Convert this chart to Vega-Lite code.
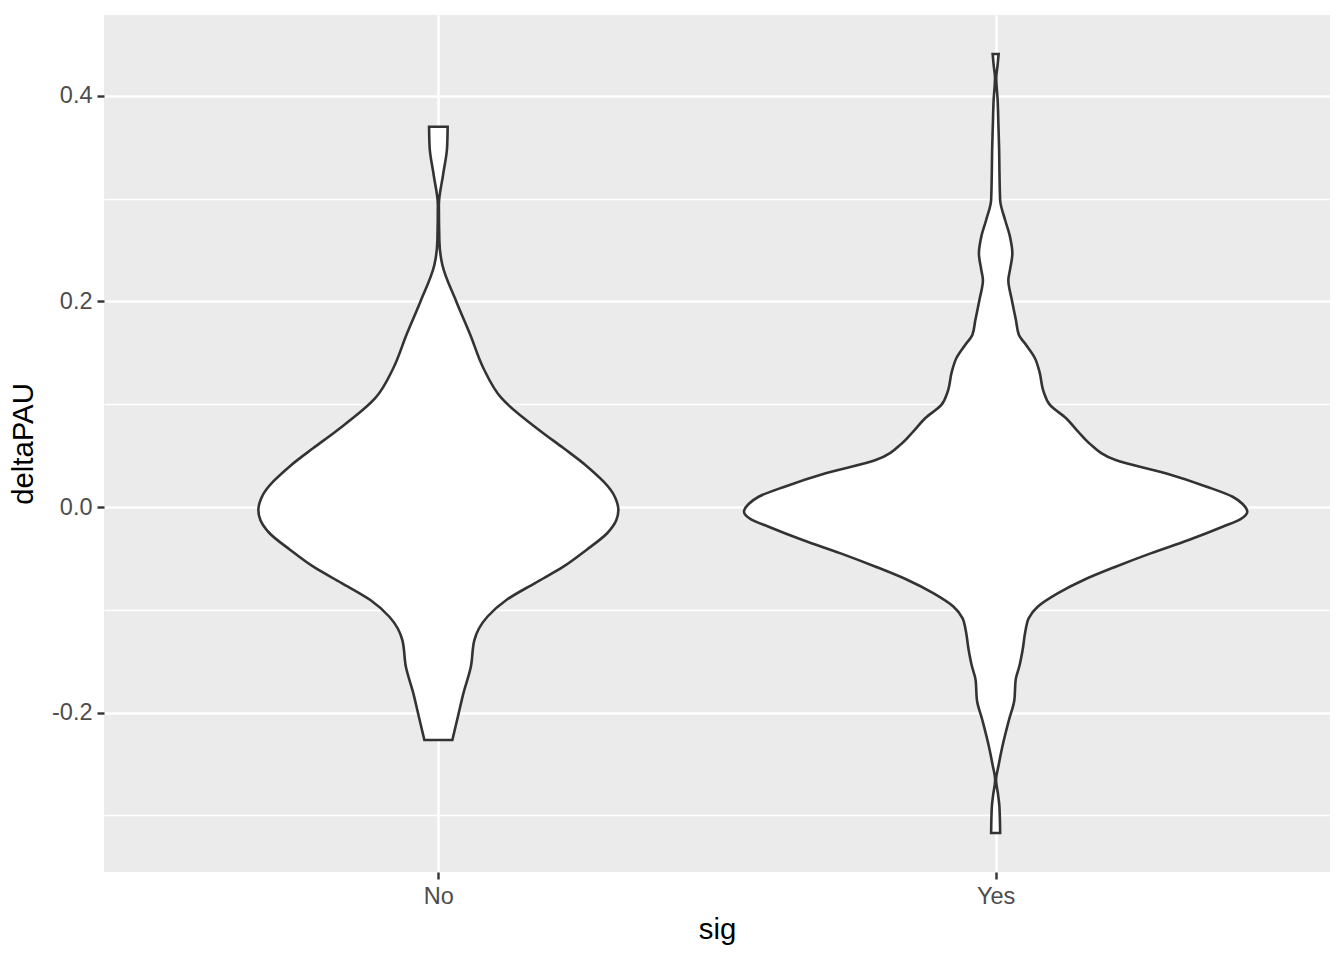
{
  "$schema": "https://vega.github.io/schema/vega-lite/v6.json",
  "width": 1226,
  "height": 857,
  "autosize": {"type": "none"},
  "padding": {"left": 104, "top": 15, "right": 14, "bottom": 88},
  "background": "white",
  "config": {"view": {"fill": "#EBEBEB", "stroke": null}, "font": "Liberation Sans"},
  "data": {"values": [
    {"sig": "No", "deltaPAU": 0.370, "xmin": 0.9833, "xmax": 1.0167},
    {"sig": "No", "deltaPAU": 0.3494, "xmin": 0.9844, "xmax": 1.0156},
    {"sig": "No", "deltaPAU": 0.3231, "xmin": 0.9916, "xmax": 1.0084},
    {"sig": "No", "deltaPAU": 0.2939, "xmin": 0.9991, "xmax": 1.0009},
    {"sig": "No", "deltaPAU": 0.2589, "xmin": 0.9982, "xmax": 1.0018},
    {"sig": "No", "deltaPAU": 0.2355, "xmin": 0.9928, "xmax": 1.0072},
    {"sig": "No", "deltaPAU": 0.1998, "xmin": 0.9677, "xmax": 1.0323},
    {"sig": "No", "deltaPAU": 0.1674, "xmin": 0.9426, "xmax": 1.0574},
    {"sig": "No", "deltaPAU": 0.1353, "xmin": 0.9193, "xmax": 1.0807},
    {"sig": "No", "deltaPAU": 0.1061, "xmin": 0.887, "xmax": 1.113},
    {"sig": "No", "deltaPAU": 0.0733, "xmin": 0.8152, "xmax": 1.1848},
    {"sig": "No", "deltaPAU": 0.0574, "xmin": 0.7757, "xmax": 1.2243},
    {"sig": "No", "deltaPAU": 0.0409, "xmin": 0.7362, "xmax": 1.2638},
    {"sig": "No", "deltaPAU": 0.0088, "xmin": 0.6824, "xmax": 1.3176},
    {"sig": "No", "deltaPAU": -0.0029, "xmin": 0.677, "xmax": 1.323},
    {"sig": "No", "deltaPAU": -0.0127, "xmin": 0.6806, "xmax": 1.3194},
    {"sig": "No", "deltaPAU": -0.0253, "xmin": 0.6967, "xmax": 1.3033},
    {"sig": "No", "deltaPAU": -0.0418, "xmin": 0.7344, "xmax": 1.2656},
    {"sig": "No", "deltaPAU": -0.0581, "xmin": 0.7757, "xmax": 1.2243},
    {"sig": "No", "deltaPAU": -0.074, "xmin": 0.8265, "xmax": 1.1735},
    {"sig": "No", "deltaPAU": -0.0905, "xmin": 0.878, "xmax": 1.122},
    {"sig": "No", "deltaPAU": -0.1068, "xmin": 0.9121, "xmax": 1.0879},
    {"sig": "No", "deltaPAU": -0.1295, "xmin": 0.9354, "xmax": 1.0646},
    {"sig": "No", "deltaPAU": -0.1554, "xmin": 0.9417, "xmax": 1.0583},
    {"sig": "No", "deltaPAU": -0.1813, "xmin": 0.9551, "xmax": 1.0449},
    {"sig": "No", "deltaPAU": -0.2041, "xmin": 0.965, "xmax": 1.035},
    {"sig": "No", "deltaPAU": -0.2268, "xmin": 0.9749, "xmax": 1.0251},
    {"sig": "Yes", "deltaPAU": 0.4409, "xmin": 1.9946, "xmax": 2.0054},
    {"sig": "Yes", "deltaPAU": 0.4302, "xmin": 1.9964, "xmax": 2.0036},
    {"sig": "Yes", "deltaPAU": 0.4175, "xmin": 1.9989, "xmax": 2.0011},
    {"sig": "Yes", "deltaPAU": 0.3961, "xmin": 1.9964, "xmax": 2.0036},
    {"sig": "Yes", "deltaPAU": 0.3718, "xmin": 1.995, "xmax": 2.005},
    {"sig": "Yes", "deltaPAU": 0.3474, "xmin": 1.9937, "xmax": 2.0063},
    {"sig": "Yes", "deltaPAU": 0.3280, "xmin": 1.9932, "xmax": 2.0068},
    {"sig": "Yes", "deltaPAU": 0.2988, "xmin": 1.9919, "xmax": 2.0081},
    {"sig": "Yes", "deltaPAU": 0.2793, "xmin": 1.983, "xmax": 2.017},
    {"sig": "Yes", "deltaPAU": 0.2631, "xmin": 1.9743, "xmax": 2.0257},
    {"sig": "Yes", "deltaPAU": 0.2469, "xmin": 1.97, "xmax": 2.03},
    {"sig": "Yes", "deltaPAU": 0.2307, "xmin": 1.9743, "xmax": 2.0257},
    {"sig": "Yes", "deltaPAU": 0.2209, "xmin": 1.9772, "xmax": 2.0228},
    {"sig": "Yes", "deltaPAU": 0.2015, "xmin": 1.9709, "xmax": 2.0291},
    {"sig": "Yes", "deltaPAU": 0.1820, "xmin": 1.9636, "xmax": 2.0364},
    {"sig": "Yes", "deltaPAU": 0.1674, "xmin": 1.9582, "xmax": 2.0418},
    {"sig": "Yes", "deltaPAU": 0.1577, "xmin": 1.9453, "xmax": 2.0547},
    {"sig": "Yes", "deltaPAU": 0.1450, "xmin": 1.9297, "xmax": 2.0703},
    {"sig": "Yes", "deltaPAU": 0.1317, "xmin": 1.9214, "xmax": 2.0786},
    {"sig": "Yes", "deltaPAU": 0.1122, "xmin": 1.9139, "xmax": 2.0861},
    {"sig": "Yes", "deltaPAU": 0.0993, "xmin": 1.9026, "xmax": 2.0974},
    {"sig": "Yes", "deltaPAU": 0.0866, "xmin": 1.874, "xmax": 2.126},
    {"sig": "Yes", "deltaPAU": 0.0733, "xmin": 1.852, "xmax": 2.148},
    {"sig": "Yes", "deltaPAU": 0.0623, "xmin": 1.8326, "xmax": 2.1674},
    {"sig": "Yes", "deltaPAU": 0.0457, "xmin": 1.7847, "xmax": 2.2153},
    {"sig": "Yes", "deltaPAU": 0.0328, "xmin": 1.695, "xmax": 2.305},
    {"sig": "Yes", "deltaPAU": 0.0198, "xmin": 1.6214, "xmax": 2.3786},
    {"sig": "Yes", "deltaPAU": 0.0100, "xmin": 1.5747, "xmax": 2.4253},
    {"sig": "Yes", "deltaPAU": 0.0029, "xmin": 1.5568, "xmax": 2.4432},
    {"sig": "Yes", "deltaPAU": -0.0046, "xmin": 1.5484, "xmax": 2.4516},
    {"sig": "Yes", "deltaPAU": -0.0117, "xmin": 1.5604, "xmax": 2.4396},
    {"sig": "Yes", "deltaPAU": -0.0192, "xmin": 1.5927, "xmax": 2.4073},
    {"sig": "Yes", "deltaPAU": -0.0321, "xmin": 1.6537, "xmax": 2.3463},
    {"sig": "Yes", "deltaPAU": -0.0451, "xmin": 1.7219, "xmax": 2.2781},
    {"sig": "Yes", "deltaPAU": -0.0581, "xmin": 1.7847, "xmax": 2.2153},
    {"sig": "Yes", "deltaPAU": -0.0710, "xmin": 1.8421, "xmax": 2.1579},
    {"sig": "Yes", "deltaPAU": -0.0840, "xmin": 1.8888, "xmax": 2.1112},
    {"sig": "Yes", "deltaPAU": -0.0970, "xmin": 1.9246, "xmax": 2.0754},
    {"sig": "Yes", "deltaPAU": -0.1083, "xmin": 1.9408, "xmax": 2.0592},
    {"sig": "Yes", "deltaPAU": -0.1197, "xmin": 1.9462, "xmax": 2.0538},
    {"sig": "Yes", "deltaPAU": -0.1392, "xmin": 1.9516, "xmax": 2.0484},
    {"sig": "Yes", "deltaPAU": -0.1538, "xmin": 1.9569, "xmax": 2.0431},
    {"sig": "Yes", "deltaPAU": -0.1684, "xmin": 1.9641, "xmax": 2.0359},
    {"sig": "Yes", "deltaPAU": -0.1878, "xmin": 1.9664, "xmax": 2.0336},
    {"sig": "Yes", "deltaPAU": -0.2073, "xmin": 1.9761, "xmax": 2.0239},
    {"sig": "Yes", "deltaPAU": -0.2333, "xmin": 1.988, "xmax": 2.012},
    {"sig": "Yes", "deltaPAU": -0.2511, "xmin": 1.9946, "xmax": 2.0054},
    {"sig": "Yes", "deltaPAU": -0.2657, "xmin": 1.9991, "xmax": 2.0009},
    {"sig": "Yes", "deltaPAU": -0.2803, "xmin": 1.9955, "xmax": 2.0045},
    {"sig": "Yes", "deltaPAU": -0.2917, "xmin": 1.9932, "xmax": 2.0068},
    {"sig": "Yes", "deltaPAU": -0.3173, "xmin": 1.9919, "xmax": 2.0081}
  ]},
  "mark": {"type": "area", "orient": "horizontal", "interpolate": "monotone", "fill": "white", "stroke": "#333333", "strokeWidth": 2.6},
  "encoding": {
    "detail": {"field": "sig"},
    "y": {
      "field": "deltaPAU", "type": "quantitative",
      "scale": {"domain": [-0.3552, 0.4788], "nice": false, "zero": false},
      "axis": {
        "title": "deltaPAU",
        "values": [-0.3, -0.2, -0.1, 0, 0.1, 0.2, 0.3, 0.4],
        "labelExpr": "datum.value == 0 ? '0.0' : (abs(round(datum.value*10)) % 2 == 1 ? '' : '' + datum.value)",
        "domain": false,
        "gridColor": "white",
        "gridWidth": {"condition": {"test": "abs(round(datum.value*10)) % 2 == 1", "value": 1.3}, "value": 2.6},
        "tickColor": "#333333",
        "tickOpacity": {"condition": {"test": "abs(round(datum.value*10)) % 2 == 1", "value": 0}, "value": 1},
        "tickSize": 7,
        "tickWidth": 2.4,
        "labelColor": "#4D4D4D",
        "labelFontSize": 23.5,
        "labelPadding": 5,
        "titleFontSize": 29.3,
        "titleColor": "black",
        "titleFontWeight": "normal",
        "titlePadding": 13
      }
    },
    "x": {
      "field": "xmin", "type": "quantitative",
      "scale": {"domain": [0.4, 2.6], "nice": false, "zero": false},
      "axis": {
        "title": "sig",
        "values": [1, 2],
        "labelExpr": "datum.value == 1 ? 'No' : 'Yes'",
        "domain": false,
        "gridColor": "white",
        "gridWidth": 2.6,
        "tickColor": "#333333",
        "tickSize": 7,
        "tickWidth": 2.4,
        "labelColor": "#4D4D4D",
        "labelFontSize": 23.5,
        "labelPadding": 5,
        "titleFontSize": 29.3,
        "titleColor": "black",
        "titleFontWeight": "normal",
        "titlePadding": 8
      }
    },
    "x2": {"field": "xmax"}
  }
}
